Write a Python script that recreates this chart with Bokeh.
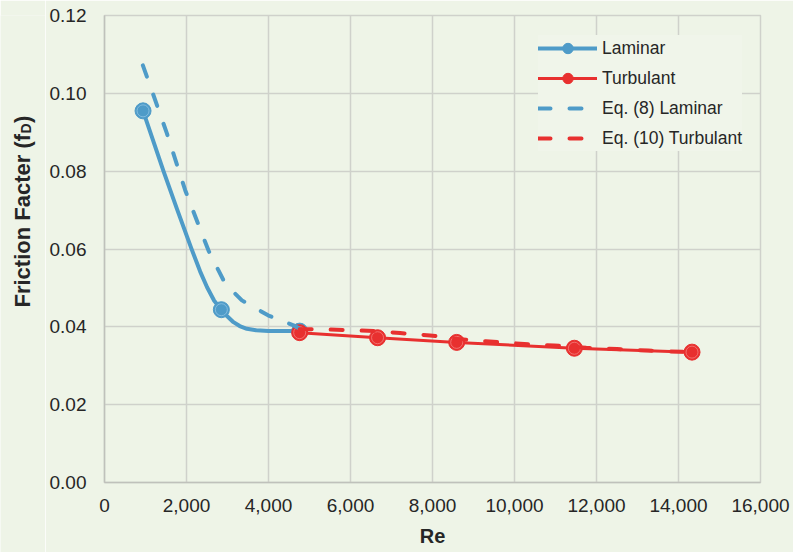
import math

from bokeh.plotting import figure
from bokeh.layouts import row
from bokeh.models import (FixedTicker, NumeralTickFormatter, Legend, LegendItem,
                          Label, Range1d)
from bokeh.embed import file_html
from bokeh.resources import INLINE

# ---- measured friction factors ----
lam_re = [940, 2850, 4760]
lam_f = [0.0955, 0.0444, 0.0389]

turb_re = [4760, 6660, 8590, 11460, 14330]
turb_f = [0.0385, 0.0372, 0.0360, 0.0345, 0.0335]

# smoothed trend through the laminar measurements
lam_curve_re = [940, 1439, 1771, 2120, 2334, 2505, 2676, 2850, 2993, 3146, 3298,
                3473, 3700, 4000, 4760]
lam_curve_f = [0.0955, 0.0800, 0.0702, 0.0601, 0.0542, 0.0501, 0.0467, 0.0444,
               0.0427, 0.0412, 0.0402, 0.0395, 0.0391, 0.0389, 0.0389]

# correlation curves
eq8_re = [936, 1195, 1522, 1968, 2315, 2537, 2780, 2944, 3351, 4000, 4610, 4760]
eq8_f = [0.1072, 0.0995, 0.0897, 0.0751, 0.0656, 0.0596, 0.0545, 0.0511, 0.0468,
         0.0429, 0.0404, 0.0395]

eq10_re = [4760, 5500, 6660, 7210, 7940, 8600, 9300, 10240, 10970, 11750, 12500,
           13260, 14330]
eq10_f = [0.0394, 0.0393, 0.0389, 0.0384, 0.0378, 0.0369, 0.0363, 0.0356, 0.0352,
          0.0346, 0.0343, 0.0339, 0.0335]

x_ticks = [0, 2000, 4000, 6000, 8000, 10000, 12000, 14000, 16000]
y_ticks = [0.0, 0.02, 0.04, 0.06, 0.08, 0.10, 0.12]

# ---- styling ----
BG = "#eef4e7"
GRID = "#cfd1cb"
AXIS = "#bfc1bb"
BLUE = "#4e9bc8"
BLUE_RING = "#8ec3e3"
RED = "#e8302f"
RED_RING = "#f47f7c"
TEXT = "#262626"
FONT = "Liberation Sans"

H = 552
STRIP_W = 45          # narrow panel holding the vertical y-axis title

p = figure(width=793 - STRIP_W, height=H, output_backend="svg", toolbar_location=None,
           x_range=Range1d(0, 16000), y_range=Range1d(0, 0.12),
           min_border_left=104 - STRIP_W, min_border_right=33, min_border_top=15,
           min_border_bottom=70)

p.background_fill_color = BG
p.border_fill_color = BG
p.outline_line_color = GRID
p.outline_line_width = 1.5

p.xgrid.ticker = FixedTicker(ticks=x_ticks)
p.ygrid.ticker = FixedTicker(ticks=y_ticks)
for g in (p.xgrid, p.ygrid):
    g.grid_line_color = GRID
    g.grid_line_width = 1.5

p.xaxis.ticker = FixedTicker(ticks=x_ticks)
p.yaxis.ticker = FixedTicker(ticks=y_ticks)
p.xaxis.formatter = NumeralTickFormatter(format="0,0")
p.yaxis.formatter = NumeralTickFormatter(format="0.00")
for ax in (p.xaxis, p.yaxis):
    ax.axis_line_color = AXIS
    ax.axis_line_width = 1.5
    ax.major_tick_line_color = None
    ax.minor_tick_line_color = None
    ax.major_tick_out = 0
    ax.major_tick_in = 0
    ax.major_label_text_font = FONT
    ax.major_label_text_font_size = "19px"
    ax.major_label_text_color = TEXT
p.xaxis.major_label_standoff = 16
p.yaxis.major_label_standoff = 18

p.xaxis.axis_label = "Re"
p.xaxis.axis_label_standoff = 10
p.xaxis.axis_label_text_font = FONT
p.xaxis.axis_label_text_font_size = "20px"
p.xaxis.axis_label_text_font_style = "bold"
p.xaxis.axis_label_text_color = TEXT

# ---- series ----
lam_line = p.line(lam_curve_re, lam_curve_f, line_color=BLUE, line_width=4,
                  line_join="round", line_cap="round")
lam_pts = p.scatter(lam_re, lam_f, size=16, fill_color=BLUE, line_color=BLUE,
                    line_width=1)
p.scatter(lam_re, lam_f, size=12, fill_color=None, line_color=BLUE_RING,
          line_width=0.8)

turb_line = p.line(turb_re, turb_f, line_color=RED, line_width=3,
                   line_join="round", line_cap="round")
turb_pts = p.scatter(turb_re, turb_f, size=16, fill_color=RED, line_color=RED,
                     line_width=1)
p.scatter(turb_re, turb_f, size=12, fill_color=None, line_color=RED_RING,
          line_width=0.8)

eq8_line = p.line(eq8_re, eq8_f, line_color=BLUE, line_width=4,
                  line_dash="12 19", line_cap="round", line_join="round")
eq10_line = p.line(eq10_re, eq10_f, line_color=RED, line_width=4,
                   line_dash="12 19", line_cap="round", line_join="round")

legend = Legend(items=[
    LegendItem(label="Laminar", renderers=[lam_line, lam_pts]),
    LegendItem(label="Turbulant", renderers=[turb_line, turb_pts]),
    LegendItem(label="Eq. (8) Laminar", renderers=[eq8_line]),
    LegendItem(label="Eq. (10) Turbulant", renderers=[eq10_line]),
], location=(434, 331))
legend.padding = 14
legend.margin = 0
legend.spacing = 4
legend.glyph_width = 59
legend.glyph_height = 26
legend.label_standoff = 5
legend.label_text_font = FONT
legend.label_text_font_size = "17.5px"
legend.label_text_color = TEXT
legend.border_line_color = None
legend.background_fill_color = "#f0f5ea"
legend.background_fill_alpha = 1.0
p.add_layout(legend)

# ---- vertical y-axis title with subscript, in its own strip ----
strip = figure(title=None, frame_width=STRIP_W, frame_height=H, output_backend="svg",
               toolbar_location=None, x_range=Range1d(0, STRIP_W),
               y_range=Range1d(0, H), x_axis_type=None, y_axis_type=None,
               min_border_left=0, min_border_right=0, min_border_top=0,
               min_border_bottom=0)
strip.background_fill_color = BG
strip.border_fill_color = BG
strip.outline_line_color = None
strip.grid.visible = False

ylab_x, ylab_y = 22, 260
title_style = dict(angle=math.pi / 2, text_font=FONT, text_font_style="bold",
                   text_color=TEXT, text_align="left", text_baseline="alphabetic")
strip.add_layout(Label(x=ylab_x, y=ylab_y, text="Friction Facter (f",
                       text_font_size="22px", **title_style))
strip.add_layout(Label(x=ylab_x + 3, y=ylab_y + 174, text="D",
                       text_font_size="14px", **title_style))
strip.add_layout(Label(x=ylab_x, y=ylab_y + 184.5, text=")",
                       text_font_size="22px", **title_style))

layout = row(strip, p, spacing=0)
open("out.html", "w").write(file_html(layout, INLINE))
